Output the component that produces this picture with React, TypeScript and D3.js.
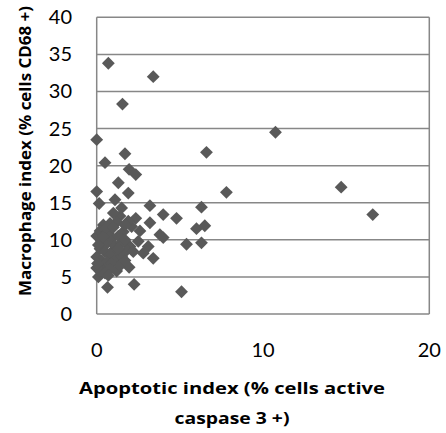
import React from "react";
import * as d3 from "d3";

const apoptoticIndex = [
  0.7, 3.4, 1.55, 0, 1.7, 6.6, 0.5, 10.75, 1.95, 2.35, 1.3, 0, 1.9, 7.8, 14.7, 16.6,
  0.15, 1.1, 1.5, 3.2, 6.3, 4.0, 4.8, 2.35, 1.4, 3.2, 1.2, 0.4, 2.1, 6.0, 6.5, 3.8,
  4.0, 0, 0.7, 1.6, 5.4, 6.3, 3.1, 2.0, 2.8, 3.4, 1.0, 0, 0.4, 0, 1.95, 1.2, 0.1,
  0.65, 2.25, 5.1,
  0.2, 0.5, 0.8, 0.3, 0.6, 0.9, 1.3, 0.2, 0.5, 0.8, 1.2, 1.5, 0.3, 0.6, 0.9, 1.4,
  1.7, 0.2, 0.5, 0.8, 1.1, 1.5, 1.8, 0.1, 0.4, 1.0, 1.7, 2.2, 0.7, 1.3, 0.05, 2.5,
  2.6, 1.9, 1.0, 1.7,
];
const macrophageIndex = [
  33.8, 32.0, 28.3, 23.5, 21.6, 21.8, 20.4, 24.5, 19.5, 18.8, 17.7, 16.5, 16.3, 16.4, 17.1, 13.4,
  14.9, 15.4, 14.3, 14.6, 14.4, 13.4, 12.9, 12.9, 13.2, 12.3, 12.4, 12.0, 11.8, 11.5, 11.9, 10.7,
  10.3, 10.5, 10.9, 11.1, 9.4, 9.6, 9.1, 9.1, 8.2, 7.5, 8.6, 7.7, 6.6, 6.2, 6.3, 5.8, 5.0,
  3.6, 4.0, 3.0,
  11.2, 11.5, 12.2, 9.8, 9.5, 10.2, 10.5, 8.8, 8.4, 8.0, 7.5, 7.8, 7.2, 7.0, 6.8, 6.5,
  7.2, 5.8, 5.5, 6.0, 9.2, 9.6, 8.6, 9.3, 10.4, 11.7, 10.0, 8.4, 5.2, 8.8, 6.8, 9.8,
  11.2, 12.5, 13.6, 12.0,
];
const xTicks = [0, 10, 20];
const yTicks = [0, 5, 10, 15, 20, 25, 30, 35, 40];
const xTitleLines = ["Apoptotic  index (% cells active", "caspase 3 +)"];
const yTitle = "Macrophage index (% cells CD68 +)";

export default function App() {
  const W = 446, H = 433;
  const left = 96.7, right = 429.3, top = 17.3, bottom = 314;
  const x = d3.scaleLinear().domain([0, 20]).range([left, right]);
  const y = d3.scaleLinear().domain([0, 40]).range([bottom, top]);
  const diamond = d3.symbol().type(d3.symbolDiamond2).size(105)();
  const points = apoptoticIndex.map((a, i) => ({ a, m: macrophageIndex[i] }));
  const font = "Lato, 'Open Sans', sans-serif";
  const boldFont = "'Open Sans', sans-serif";
  return (
    <svg width={W} height={H} style={{ position: "absolute", left: 0, top: 0, background: "#fff" }}>
      {yTicks.map((t) => (
        <line key={"g" + t} x1={left} x2={right} y1={y(t)} y2={y(t)} stroke="#878787" strokeWidth={1.5} />
      ))}
      <line x1={left} x2={left} y1={top} y2={bottom} stroke="#878787" strokeWidth={1.5} />
      <line x1={right} x2={right} y1={top} y2={bottom} stroke="#878787" strokeWidth={1.5} />
      {points.map((p, i) => (
        <path key={i} d={diamond!} transform={`translate(${x(p.a)},${y(p.m)})`} fill="#595959" />
      ))}
      {yTicks.map((t) => (
        <text key={"y" + t} x={72} y={y(t) + 7} textAnchor="end" fontSize={20} fontFamily={font} fill="#000">
          {t}
        </text>
      ))}
      {xTicks.map((t) => (
        <text key={"x" + t} x={x(t)} y={357} textAnchor="middle" fontSize={20} fontFamily={font} fill="#000">
          {t}
        </text>
      ))}
      {xTitleLines.map((l, i) => (
        <text key={"t" + i} x={232} y={394 + i * 30} textAnchor="middle" fontSize={16.5} fontWeight="bold" fontFamily={boldFont} fill="#000" textLength={i === 0 ? 306 : 115} lengthAdjust="spacingAndGlyphs">
          {l}
        </text>
      ))}
      <text transform="translate(31,151) rotate(-90)" textAnchor="middle" fontSize={16.5} fontWeight="bold" fontFamily={boldFont} fill="#000" textLength={290} lengthAdjust="spacingAndGlyphs">
        {yTitle}
      </text>
    </svg>
  );
}
